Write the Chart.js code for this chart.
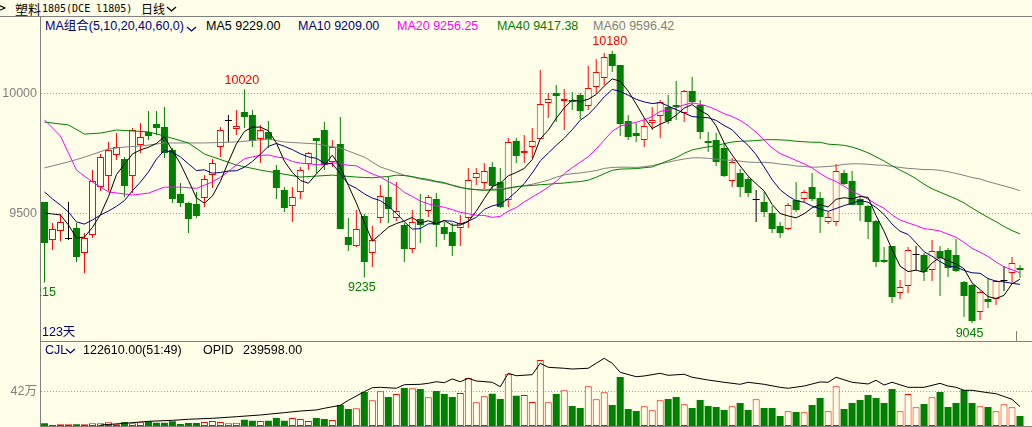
<!DOCTYPE html>
<html>
<head>
<meta charset="utf-8">
<script src="https://cdn.jsdelivr.net/npm/chart.js@4.4.0/dist/chart.umd.min.js"></script>
<style>
  body { margin: 0; width: 1032px; height: 427px; overflow: hidden; position: relative; background: #FFFEE8;
         font-family: "Liberation Sans", "Noto Sans CJK SC", sans-serif; font-size: 12.5px; }
  .t { position: absolute; white-space: nowrap; line-height: 14px; }
  .ln { position: absolute; background: #808080; }
  canvas { position: absolute; left: 0; }
  svg { position: absolute; }
</style>
</head>
<body>
<!-- title bar -->
<div class="t" style="left:-4px;top:1px;font-family:'DejaVu Sans';font-size:13px;color:#000">⊳</div>
<div class="t" style="left:15px;top:2px;font-family:'Noto Sans CJK SC';font-size:13px;color:#000">塑料</div>
<div class="t" style="left:42px;top:2px;font-family:'DejaVu Sans Mono';font-size:10px;color:#000">1805(DCE l1805)</div>
<div class="t" style="left:141px;top:2px;font-family:'Noto Sans CJK SC';font-size:12px;color:#000">日线</div>
<svg style="left:166px;top:5px" width="12" height="8"><polyline points="1,2 5.5,6 10,2" fill="none" stroke="#000" stroke-width="1.3"/></svg>
<div class="ln" style="left:0;top:16px;width:1032px;height:1px"></div>

<!-- legend -->
<div class="t" style="left:45px;top:19px;color:#000080">MA组合(5,10,20,40,60,0)</div>
<svg style="left:186px;top:25px" width="12" height="8"><polyline points="1,2 5.5,6 10,2" fill="none" stroke="#000080" stroke-width="1.3"/></svg>
<div class="t" style="left:206px;top:19px;color:#000">MA5 9229.00</div>
<div class="t" style="left:298px;top:19px;color:#000080">MA10 9209.00</div>
<div class="t" style="left:397px;top:19px;color:#FF00FF">MA20 9256.25</div>
<div class="t" style="left:497px;top:19px;color:#008000">MA40 9417.38</div>
<div class="t" style="left:593px;top:19px;color:#808080">MA60 9596.42</div>

<canvas id="main" width="1032" height="324" style="top:17px"></canvas>
<div class="t" style="left:42px;top:325px;color:#000080">123天</div>
<div class="ln" style="left:1016px;top:331px;width:1px;height:10px"></div>
<div class="ln" style="left:40px;top:341px;width:992px;height:1px"></div>

<!-- volume header -->
<div class="t" style="left:45px;top:343px;color:#000080">CJL</div>
<svg style="left:65px;top:347px" width="12" height="8"><polyline points="1,2 5.5,6 10,2" fill="none" stroke="#000080" stroke-width="1.3"/></svg>
<div class="t" style="left:83px;top:343px;color:#000">122610.00(51:49)</div>
<div class="t" style="left:203px;top:343px;color:#000">OPID</div>
<div class="t" style="left:243px;top:343px;color:#000">239598.00</div>

<canvas id="vol" width="1032" height="84" style="top:342px"></canvas>
<div class="ln" style="left:40px;top:426px;width:992px;height:1px"></div>

<script>
// K线数据 (每日 开 高 低 收)
const open = [9550,9392,9429,9396,9442,9337,9412,9612,9658,9746,
  9729,9658,9787,9842,9875,9862,9767,9583,9546,9542,
  9567,9662,9779,9887,9854,9925,9912,9812,9842,9683,
  9600,9533,9592,9708,9817,9850,9717,9792,9404,9367,
  9492,9337,9483,9571,9483,9454,9354,9479,9512,9562,
  9446,9425,9442,9483,9650,9629,9696,9633,9558,9804,
  9754,9779,9812,9962,10004,9971,9975,9996,9950,10029,
  10067,10167,10121,9887,9837,9808,9879,9908,9946,9954,
  9921,10013,9954,9804,9808,9775,9637,9671,9646,9558,
  9550,9504,9450,9437,9558,9562,9612,9567,9467,9467,
  9671,9637,9562,9533,9471,9308,9367,9171,9200,9329,
  9329,9267,9346,9350,9329,9217,9204,9092,9146,9146,
  9221,9254,9275];
const high = [9550,9462,9500,9550,9462,9421,9683,9750,9800,9837,
  9737,9858,9879,9929,9929,9946,9775,9629,9550,9592,
  9662,9729,9862,9912,9933,10020,9933,9871,9887,9704,
  9612,9612,9696,9758,9817,9883,9808,9904,9483,9517,
  9500,9450,9621,9654,9633,9462,9517,9583,9579,9587,
  9467,9462,9496,9692,9692,9712,9717,9692,9817,9817,
  9829,9858,10100,10004,10037,10021,10008,10004,10117,10146,
  10171,10180,10121,9912,9879,9900,9946,9975,9996,10054,
  10017,10071,9975,9842,9837,9796,9733,9687,9654,9600,
  9592,9533,9467,9546,9633,9600,9671,9592,9508,9708,
  9683,9679,9571,9537,9475,9362,9367,9225,9362,9367,
  9337,9392,9367,9358,9396,9221,9208,9179,9233,9225,
  9283,9321,9287];
const low = [9215,9350,9387,9392,9300,9254,9400,9596,9596,9725,
  9571,9587,9754,9808,9829,9733,9546,9529,9421,9483,
  9529,9608,9737,9800,9829,9858,9779,9712,9775,9562,
  9508,9467,9562,9683,9671,9683,9696,9437,9346,9362,
  9235,9279,9462,9462,9471,9300,9337,9379,9487,9362,
  9392,9325,9367,9442,9621,9604,9600,9525,9529,9712,
  9712,9733,9812,9900,9883,9850,9933,9896,9933,10000,
  10037,10092,9825,9808,9800,9779,9850,9817,9875,9892,
  9883,9958,9812,9758,9700,9654,9612,9571,9571,9467,
  9487,9421,9400,9433,9508,9550,9554,9421,9458,9450,
  9621,9537,9471,9396,9279,9296,9129,9146,9171,9267,
  9221,9221,9158,9237,9258,9071,9045,9058,9108,9121,
  9179,9208,9233];
const close = [9379,9437,9467,9396,9321,9400,9637,9737,9767,9779,
  9617,9850,9821,9825,9858,9754,9562,9546,9479,9492,
  9646,9712,9850,9887,9867,9904,9804,9850,9812,9608,
  9525,9571,9683,9754,9804,9704,9779,9437,9371,9437,
  9300,9392,9575,9521,9512,9354,9467,9454,9571,9454,
  9417,9367,9462,9642,9671,9679,9617,9529,9800,9742,
  9762,9804,9958,9979,9992,9979,9967,9929,10025,10092,
  10154,10117,9875,9821,9825,9867,9892,9967,9887,9946,
  10013,9967,9842,9796,9717,9658,9717,9612,9587,9558,
  9508,9437,9421,9537,9517,9592,9562,9487,9487,9679,
  9625,9537,9537,9467,9300,9300,9154,9196,9350,9329,
  9258,9346,9317,9275,9262,9158,9054,9175,9133,9221,
  9221,9296,9267];

// 均线 (读图, null = 未读)
const ma5 = [9504,9500,9496,9454,9400,9404,9444,9498,9572,9664,
  9707,9750,9767,9778,9794,9822,9764,9709,9640,9567,
  9545,9575,9636,9717,9792,9844,9862,9862,9847,9796,
  9720,9673,9640,9628,9667,9703,9745,9696,9619,9546,
  9465,9387,9415,9445,9460,9471,9486,9462,9472,9460,
  9473,9453,9454,9468,9512,9564,9614,9628,9659,9673,
  9690,9727,9813,9849,9899,9942,9975,9969,9978,9998,
  10033,10063,10053,10012,9958,9901,9856,9874,9888,9912,
  9941,9956,9931,9913,9867,9796,9746,9700,9658,9626,
  9596,9540,9502,9492,9484,9501,9526,9539,9529,9561,
  9568,9563,9573,9569,9493,9428,9352,9283,9260,9266,
  9257,9296,9320,9305,9292,9272,9213,9185,9156,9148,
  9161,9209,9228];
const ma10 = [9592,9563,9537,9508,9467,9458,9475,9496,9512,9532,
  9556,9597,9633,9675,9729,9765,9757,9738,9709,9681,
  9684,9670,9673,9679,9680,9695,9719,9749,9782,9794,
  9782,9768,9751,9738,9732,9712,9709,9668,9624,9607,
  9584,9566,9556,9532,9503,9468,9437,9439,9459,9460,
  9472,9470,9458,9470,9486,9519,9534,9541,9564,9593,
  9627,9671,9721,9754,9786,9816,9851,9891,9914,9949,
  9988,10019,10011,9995,9978,9967,9960,9964,9950,9935,
  9921,9906,9903,9901,9890,9869,9851,9816,9786,9747,
  9696,9643,9601,9575,9555,9549,9533,9521,9511,9523,
  9535,9545,9556,9549,9527,9498,9458,9428,9415,9380,
  9343,9324,9302,9283,9279,9265,9255,9253,9231,9220,
  9217,9211,9207];
const ma20 = [9892,null,9825,null,9683,null,9633,null,9592,null,
  null,9579,null,9587,null,9612,null,9612,null,9607,
  9620,9634,9653,9677,9705,9730,9738,9744,9746,9738,
  9733,9719,9712,9709,9706,9704,9714,9709,9703,9701,
  9683,9667,9654,9635,9618,9590,9573,9554,9542,9534,
  9528,9518,9507,9501,9495,9494,9486,9490,9512,9527,
  9550,9571,9590,9612,9636,9668,9693,9716,9739,9771,
  9808,9845,9866,9875,9882,9892,9906,9928,9932,9942,
  9955,9963,9957,9948,9934,9918,9906,9890,9868,9841,
  9809,9775,9752,9738,9723,9709,9692,9669,9649,9635,
  9616,9594,9579,9562,9541,9524,9496,9475,9463,9452,
  9439,9435,9429,9416,9403,9382,9357,9341,9323,9300,
  9280,9268,9255];
const ma40 = [9883,null,null,9871,null,9833,null,9837,null,9850,
  null,null,null,9842,null,9825,null,null,9796,null,
  9750,null,null,null,9704,null,null,9683,null,null,
  null,null,9654,null,null,null,9662,null,null,9654,
  9652,9651,9654,9656,9662,9660,9656,9649,9644,9636,
  9631,9619,9610,9605,9601,9599,9600,9600,9608,9614,
  9617,9619,9622,9624,9627,9629,9633,9635,9641,9653,
  9668,9682,9687,9688,9689,9693,9696,9709,9722,9735,
  9753,9767,9774,9780,9785,9793,9800,9803,9804,9806,
  9809,9810,9809,9807,9803,9801,9799,9799,9791,9789,
  9786,9779,9768,9755,9738,9721,9701,9683,9666,9647,
  9624,9605,9591,9577,9563,9546,9525,9505,9486,9468,
  9448,9431,9417];
const ma60 = [9692,null,null,9717,null,9737,null,null,9771,null,
  9779,null,9783,null,null,9796,null,null,null,null,
  9796,null,null,null,9800,null,null,null,9812,null,
  9800,null,null,null,9792,null,null,9775,null,null,
  9737,null,9696,null,null,9662,null,9646,null,null,
  null,9621,null,9604,null,9600,null,null,9608,9612,
  9618,9624,9632,9641,9653,9663,9668,9671,9676,9681,
  9690,9694,9695,9695,9694,9697,9702,9709,9716,9723,
  9729,9734,9734,9732,9729,9725,9724,9720,9716,9715,
  9715,9713,9708,9705,9700,9698,9695,9696,9698,9701,
  9707,9709,9709,9707,9704,9703,9698,9694,9690,9688,
  9685,9685,9682,9676,9669,9661,9652,9646,9635,9626,
  9617,9608,9597];

// 成交量 (万手)
const vol = [3.3,1.2,2.1,2.1,2.1,2.1,3.3,3.3,4.6,2.1,
  4.9,3.3,4.6,5.8,4.1,4.1,5.8,2.5,3.7,3.7,
  4.9,6.2,4.9,3.3,4.1,7.8,6.6,6.2,6.6,9.9,
  6.6,9.9,8.6,6.2,9.9,8.6,7.4,25.9,21.0,21.9,
  42.0,31.7,42.9,35.8,39.5,46.9,46.6,45.7,35.5,43.2,
  39.5,35.8,40.8,59.3,29.3,36.7,39.9,33.4,64.6,37.4,
  38.3,29.6,81.5,29.3,39.5,44.1,24.7,22.2,49.0,33.0,
  41.6,25.9,60.5,21.0,18.5,24.3,19.4,31.7,33.4,35.8,
  26.8,22.2,32.1,24.7,23.5,19.8,24.3,28.4,19.8,33.0,
  22.2,22.2,12.4,18.2,17.3,16.9,25.9,34.6,18.2,49.0,
  21.0,28.4,32.1,38.3,34.6,28.4,45.7,18.2,39.5,23.1,
  27.2,35.5,42.0,23.5,28.4,44.5,28.4,24.3,23.5,18.2,
  26.8,23.1,12.3];
// 持仓量 OPID (万手), 读图采样
const opidIdx = [7,10,13,16,18,21,24,27,30,32,34,35,37,38,40,41,42,44,45,47,48,49,50,51,52,53,54,56,57,58,59,61,62,63,65,66,68,69,70,71,72,74,75,77,78,80,81,83,85,87,88,90,92,93,95,97,98,99,101,103,104,105,106,108,110,112,113,114,115,116,118,119,121,122];
const opidVal = [1.2,3.3,5.8,7.0,8.3,9.5,11.5,13.6,16.5,18.5,19.8,21.9,25.6,31.7,42.4,47.3,47.8,46.6,51.0,51.5,52.7,54.7,53.5,58.1,54.7,58.9,55.6,54.0,48.5,65.1,62.1,63.4,77.5,72.5,71.3,70.4,71.3,77.5,83.6,77.5,66.3,60.9,61.8,65.1,62.6,63.9,60.2,56.8,54.0,51.5,54.0,51.5,47.8,46.6,49.4,54.4,54.0,60.2,54.0,51.9,56.5,50.6,54.0,47.8,47.8,52.7,49.4,47.8,44.1,44.1,41.1,39.9,33.0,24.0];

const priceTicks = [9500, 10000];
const volTicks = [42];
const highMarks = [25, 71];
const lowMarks = [0, 40, 116];

const BG = '#FFFEE8';
const RED = '#FF0000';
const GREEN = '#008000';

// 123 trading days plus one empty slot on the right edge
const days = close.map((c, i) => String(i + 1)).concat(['']);
const idx = close.map((c, i) => i);
const kind = close.map((c, i) => c > open[i] ? 'up' : (c < open[i] ? 'down' : 'flat'));
const lineColor = k => k === 'up' ? RED : (k === 'down' ? GREEN : '#000000');

const opid = idx.map(() => null);
opidIdx.forEach((d, k) => { opid[d] = opidVal[k]; });

const xScale = { type: 'category', offset: true, display: false };

function yAxis(min, max, ticks) {
    return {
        min: min, max: max,
        afterBuildTicks: s => { s.ticks = ticks.map(v => ({value: v})); },
        afterFit: s => { s.width = 40.5; },
        ticks: { display: false },
        grid: { color: '#a0a0a0', drawTicks: false },
        border: { display: true, color: '#808080', width: 1, dash: [1, 2] }
    };
}

function maLine(arr, color) {
    return {
        type: 'line', data: arr, borderColor: color, borderWidth: 1,
        pointRadius: 0, spanGaps: true, tension: 0, order: 0
    };
}

// y-axis labels and high/low marks
function labelPlugin(ticks, unit, marks) {
    return {
        id: 'labels',
        afterDraw(chart) {
            const {ctx, chartArea, scales} = chart;
            const x = scales.x, y = scales.y;
            ctx.save();
            ctx.font = '12.5px "Liberation Sans", "Noto Sans CJK SC"';
            ctx.textBaseline = 'middle';
            ctx.textAlign = 'right';
            ctx.fillStyle = '#808080';
            ticks.forEach(v => ctx.fillText(v + unit, 37, y.getPixelForValue(v)));
            if (marks) {
                ctx.beginPath();
                ctx.rect(chartArea.left, chartArea.top, chartArea.width, chartArea.height);
                ctx.clip();
                ctx.textAlign = 'center';
                ctx.fillStyle = RED;
                highMarks.forEach(i => ctx.fillText(String(high[i]), x.getPixelForValue(i) - 2.5, y.getPixelForValue(high[i]) - 9));
                ctx.fillStyle = GREEN;
                lowMarks.forEach(i => ctx.fillText(String(low[i]), x.getPixelForValue(i) - 2.5, y.getPixelForValue(low[i]) + 10));
            }
            ctx.restore();
        }
    };
}

// main chart: candles + moving averages
new Chart(document.getElementById('main'), {
    type: 'bar',
    data: {
        labels: days,
        datasets: [
            maLine(ma5, '#000000'),
            maLine(ma10, '#000080'),
            maLine(ma20, '#FF00FF'),
            maLine(ma40, '#008000'),
            maLine(ma60, '#808080'),
            {
                // body
                data: idx.map(i => [open[i], close[i]]),
                backgroundColor: kind.map(k => k === 'up' ? BG : lineColor(k)),
                borderColor: kind.map(lineColor),
                borderWidth: kind.map(k => k === 'up' ? 1 : 0),
                borderSkipped: false,
                barThickness: 7, minBarLength: 1, inflateAmount: 0,
                grouped: false, order: 1
            },
            {
                // wick
                data: idx.map(i => [low[i], high[i]]),
                backgroundColor: kind.map(lineColor),
                borderWidth: 0,
                barThickness: 1, inflateAmount: 0,
                grouped: false, order: 2
            }
        ]
    },
    options: {
        responsive: false, animation: false,
        layout: { padding: { left: 0, right: -0.5, top: 0, bottom: 0 } },
        scales: { x: xScale, y: yAxis(8970.83, 10320.83, priceTicks) },
        plugins: { legend: { display: false }, tooltip: { enabled: false } }
    },
    plugins: [labelPlugin(priceTicks, '', true)]
});

// volume + OPID
new Chart(document.getElementById('vol'), {
    type: 'bar',
    data: {
        labels: days,
        datasets: [
            {
                type: 'line', data: opid, spanGaps: true,
                borderColor: '#000000', borderWidth: 1, pointRadius: 0, tension: 0, order: 0
            },
            {
                data: vol,
                backgroundColor: kind.map(k => k === 'down' ? GREEN : BG),
                borderColor: kind.map(k => k === 'down' ? GREEN : RED),
                borderWidth: kind.map(k => k === 'down' ? 0 : 1),
                borderSkipped: false,
                barThickness: 7, inflateAmount: 0,
                grouped: false, order: 1
            }
        ]
    },
    options: {
        responsive: false, animation: false,
        layout: { padding: { left: 0, right: -0.5, top: 0, bottom: 0 } },
        scales: { x: xScale, y: yAxis(0, 103.76, volTicks) },
        plugins: { legend: { display: false }, tooltip: { enabled: false } }
    },
    plugins: [labelPlugin(volTicks, '万', false)]
});
</script>
</body>
</html>
